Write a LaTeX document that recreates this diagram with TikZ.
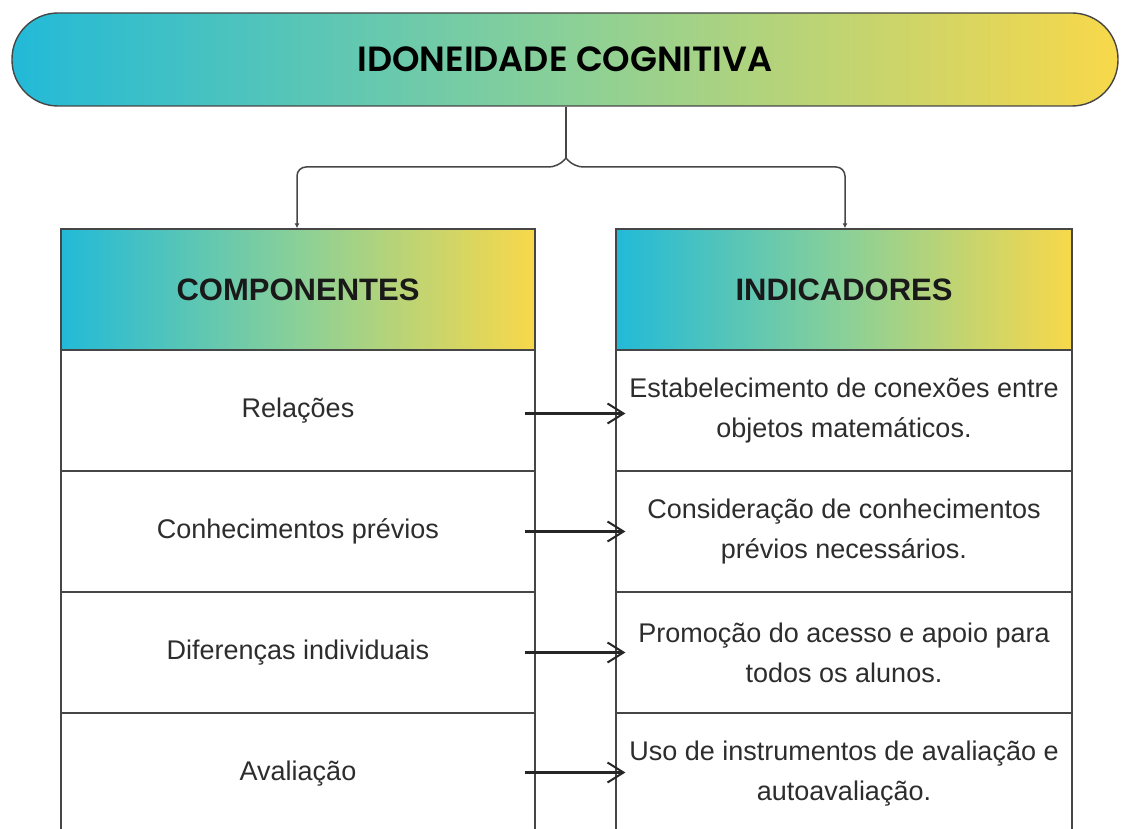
\documentclass[tikz,border=0pt]{standalone}
\usepackage{fontspec}
\setmainfont{Liberation Sans}
\newfontfamily\titlefont{Poppins}[BoldFont={Poppins SemiBold}]
\usetikzlibrary{arrows.meta}

\definecolor{cyanA}{RGB}{34,186,216}
\definecolor{greenA}{RGB}{138,208,152}
\definecolor{yellowA}{RGB}{248,216,74}
\definecolor{lineA}{RGB}{70,70,70}
\definecolor{textA}{RGB}{45,45,45}

\tikzset{
  grad/.style={draw=lineA, line width=1.4pt, left color=cyanA, right color=yellowA, middle color=greenA},
  head/.style={grad, minimum width=474pt, minimum height=121pt, inner sep=0pt,
    font=\fontsize{31}{36}\selectfont\bfseries, text=black!90},
  cell/.style={draw=lineA, line width=1.2pt, fill=white, minimum width=474pt, minimum height=121pt,
    inner sep=0pt, align=center, font=\fontsize{27}{40}\selectfont, text=textA},
  link/.style={draw=lineA, line width=1.5pt, -{Latex[length=5pt,width=5pt]}},
  sketch/.style={line width=2.2pt, black!85, -{Straight Barb[length=16pt,width=20pt,line width=2pt]}}
}

\begin{document}
\begin{tikzpicture}[x=1pt,y=-1pt]
\useasboundingbox (0,0) rectangle (1122,829);

% title
\node [grad, rounded corners=46pt, minimum width=1106pt, minimum height=93pt,
  font=\titlefont\fontsize{35}{40}\selectfont\bfseries] (ttl) at (565,59.5) {IDONEIDADE COGNITIVA};

% headers
\node [head] (comp) at (298,289.5) {COMPONENTES};
\node [head, minimum width=456pt] (ind) at (844,289.5) {INDICADORES};

% left column
\node [cell] (c1) at (298,410.5) {Relações};
\node [cell] (c2) at (298,531.5) {Conhecimentos prévios};
\node [cell] (c3) at (298,652.5) {Diferenças individuais};
\node [cell] (c4) at (298,773.5) {Avaliação};

% right column
\node [cell, minimum width=456pt] (i1) at (844,410.5) {Estabelecimento de conexões entre\\objetos matemáticos.};
\node [cell, minimum width=456pt] (i2) at (844,531.5) {Consideração de conhecimentos\\prévios necessários.};
\node [cell, minimum width=456pt] (i3) at (844,652.5) {Promoção do acesso e apoio para\\todos os alunos.};
\node [cell, minimum width=456pt] (i4) at (844,773.5) {Uso de instrumentos de avaliação e\\autoavaliação.};

% split
\coordinate (split) at (566,158);
\coordinate (lt) at (297,167);
\coordinate (rt) at (845,167);
\draw [draw=lineA, line width=1.5pt] (ttl.south -| split) -- (split);
\draw [link, rounded corners=9pt] (split) -- (558,167) -- (lt) -- (comp.north -| lt);
\draw [link, rounded corners=9pt] (split) -- (574,167) -- (rt) -- (ind.north -| rt);

% arrows
\draw [sketch] ([xshift=-11pt,yshift=-3pt]c1.east) -- ([xshift=10pt,yshift=-3pt]i1.west);
\draw [sketch] ([xshift=-11pt]c2.east) -- ([xshift=10pt]i2.west);
\draw [sketch] ([xshift=-11pt]c3.east) -- ([xshift=10pt]i3.west);
\draw [sketch] ([xshift=-11pt,yshift=1pt]c4.east) -- ([xshift=10pt,yshift=1pt]i4.west);
\end{tikzpicture}
\end{document}
